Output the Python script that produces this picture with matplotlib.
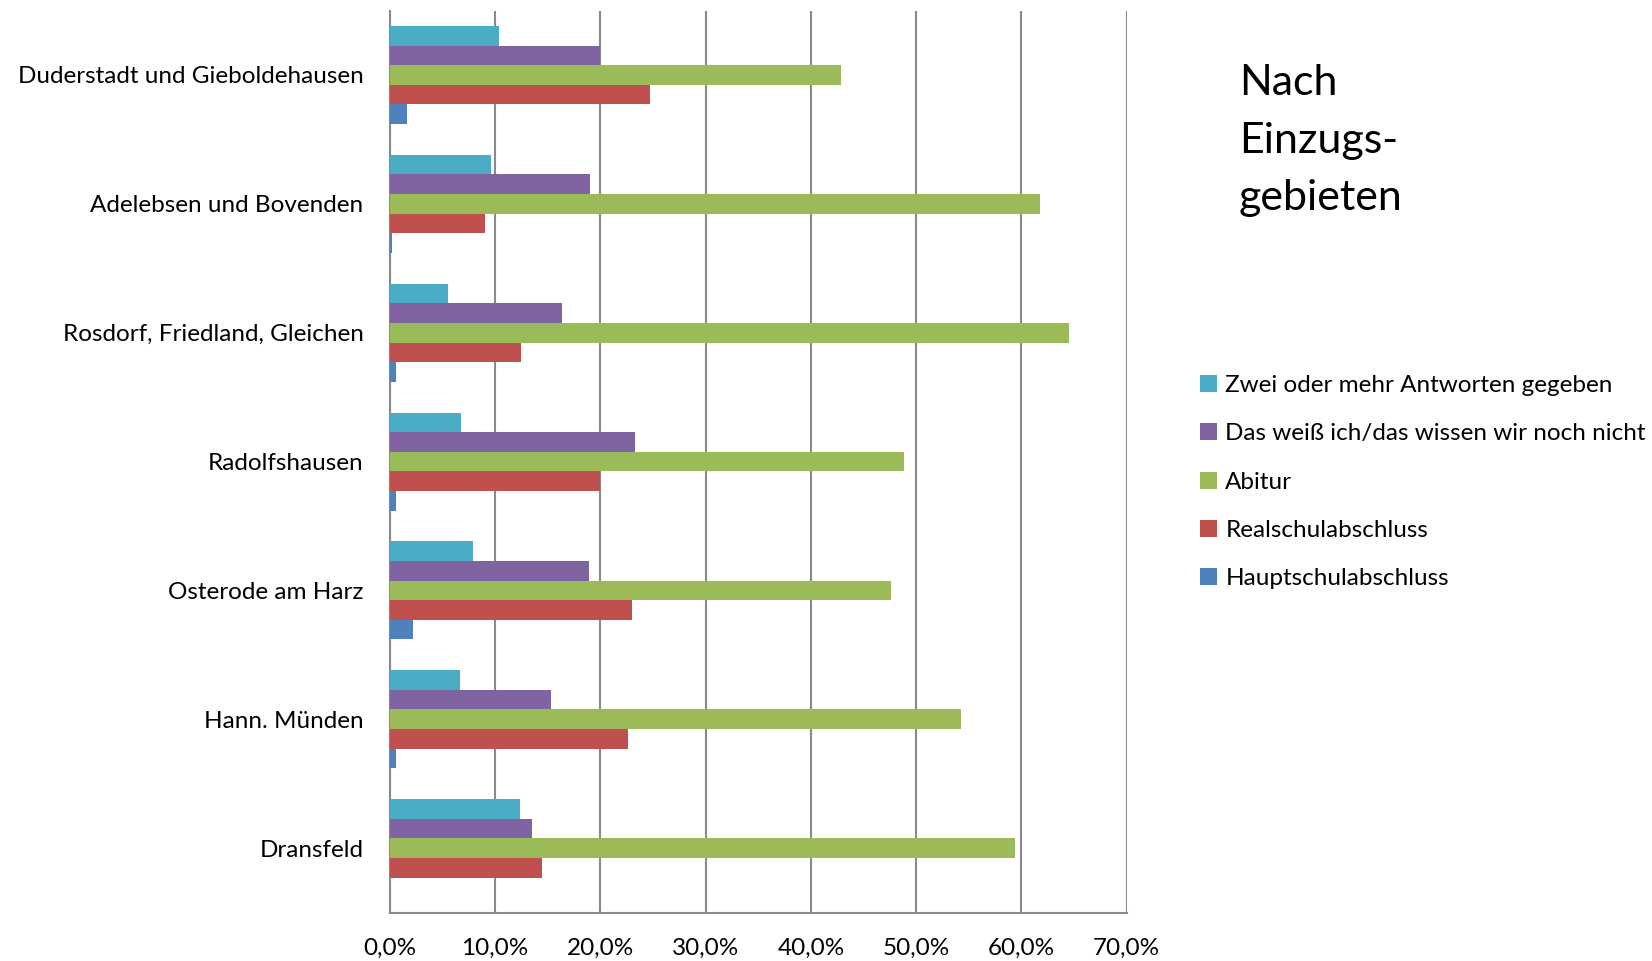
import matplotlib.pyplot as plt
import numpy as np

plt.rcParams['font.family'] = ['Lato', 'DejaVu Sans']

# categories from bottom to top (Excel order)
regions = ["Dransfeld", "Hann. Münden", "Osterode am Harz", "Radolfshausen",
           "Rosdorf, Friedland, Gleichen", "Adelebsen und Bovenden",
           "Duderstadt und Gieboldehausen"]

haupt = [0.0, 0.6, 2.2, 0.6, 0.6, 0.2, 1.6]
real = [14.5, 22.6, 23.0, 20.0, 12.5, 9.0, 24.7]
abitur = [59.4, 54.3, 47.6, 48.8, 64.5, 61.8, 42.9]
weiss = [13.5, 15.3, 18.9, 23.3, 16.4, 19.0, 20.0]
zwei = [12.4, 6.7, 7.9, 6.8, 5.5, 9.6, 10.4]

series = [
    ("Hauptschulabschluss", haupt, "#4F81BD"),
    ("Realschulabschluss", real, "#C0504D"),
    ("Abitur", abitur, "#9BBB59"),
    ("Das weiß ich/das wissen wir noch nicht", weiss, "#8064A2"),
    ("Zwei oder mehr Antworten gegeben", zwei, "#4BACC6"),
]

xticks = [0, 10, 20, 30, 40, 50, 60, 70]
xticklabels = ["0,0%", "10,0%", "20,0%", "30,0%", "40,0%", "50,0%", "60,0%", "70,0%"]

fig = plt.figure(figsize=(16.52, 9.61), dpi=100)
ax = fig.add_axes([0.236, 0.0504, 0.446, 0.9386])

y = np.arange(len(regions))
h = 0.152
handles = []
for i, (name, vals, col) in enumerate(series):
    b = ax.barh(y + (i - 2) * h, vals, height=h, color=col,
                linewidth=0, label=name, zorder=3)
    handles.append(b)

ax.set_xlim(0, 70)
ax.set_ylim(-0.5, 6.5)
ax.set_xticks(xticks)
ax.set_xticklabels(xticklabels, fontsize=17.5)
ax.set_yticks(y)
ax.set_yticklabels(regions, fontsize=17.5)
ax.tick_params(axis="y", length=0, pad=19)
ax.tick_params(axis="x", length=0, pad=18)
ax.xaxis.grid(True, color="#8a8a8a", linewidth=1.5, zorder=0)
for s in ["top", "right"]:
    ax.spines[s].set_visible(False)
for s in ["left", "bottom"]:
    ax.spines[s].set_color("#8a8a8a")
    ax.spines[s].set_linewidth(1.5)

fig.text(0.75, 0.933, "Nach\nEinzugs-\ngebieten", fontsize=31, va="top",
         ha="left", linespacing=1.62)

fig.legend(handles[::-1], [s[0] for s in series[::-1]], loc="upper left",
           bbox_to_anchor=(0.713, 0.633), frameon=False, fontsize=17.5,
           handlelength=0.7, handleheight=0.7, handletextpad=0.35,
           labelspacing=1.13)

fig.savefig("out.png", dpi=100)
